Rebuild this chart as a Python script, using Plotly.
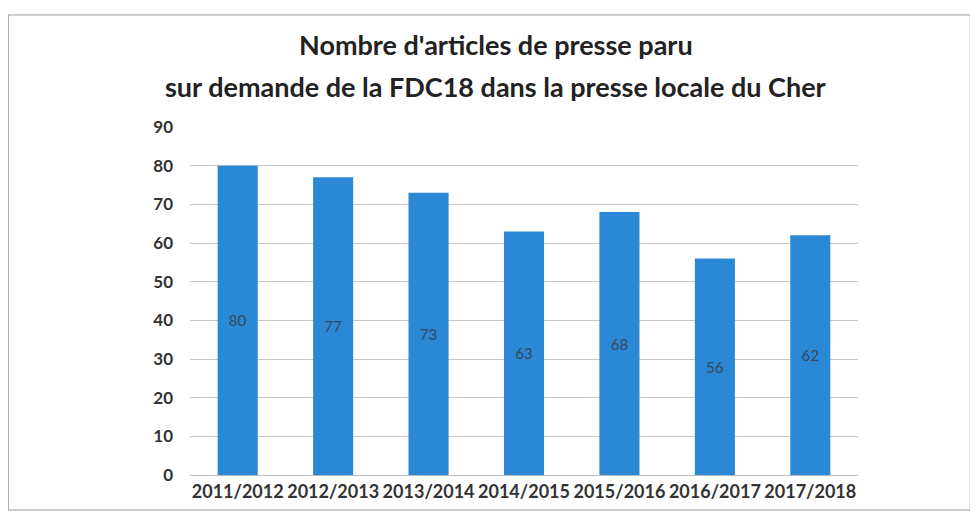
import plotly.graph_objects as go

categories = ["2011/2012", "2012/2013", "2013/2014", "2014/2015", "2015/2016", "2016/2017", "2017/2018"]
values = [80, 77, 73, 63, 68, 56, 62]
y_ticks = [0, 10, 20, 30, 40, 50, 60, 70, 80, 90]

title_line1 = "Nombre d'articles de presse paru"
title_line2 = "sur demande de la FDC18 dans la presse locale du Cher"

fig = go.Figure(go.Bar(
    x=categories, y=values,
    text=[str(v) for v in values],
    textposition="inside", insidetextanchor="middle",
    textfont=dict(family="Lato", size=15, color="#34495e"),
    marker=dict(color="#2B88D4", line=dict(width=0)),
))

title_font = dict(family="Lato", size=27, color="#222222", weight="bold")
fig.update_layout(
    width=970, height=510,
    margin=dict(l=182, r=120, t=119, b=43),
    paper_bgcolor="white", plot_bgcolor="white",
    bargap=0.58,
    showlegend=False,
    xaxis=dict(tickfont=dict(family="Lato", size=18, color="#333333", weight="bold"),
               showline=True, linecolor="#bbbbbb", linewidth=1, ticks=""),
    yaxis=dict(range=[0, 90], tickvals=y_ticks, showgrid=True, gridcolor="#c8c8c8",
               tickfont=dict(family="Lato", size=17, color="#333333", weight="bold"),
               zeroline=False, ticks="", ticklabelstandoff=16, showline=False),
    annotations=[
        dict(text=title_line1, xref="paper", yref="paper", x=0.458, y=1.236, xanchor="center",
             yanchor="middle", showarrow=False, font=title_font),
        dict(text=title_line2, xref="paper", yref="paper", x=0.458, y=1.115, xanchor="center",
             yanchor="middle", showarrow=False, font=title_font),
    ],
    shapes=[dict(type="rect", xref="paper", yref="paper", x0=-0.272, x1=1.168, y0=-0.1006, y1=1.322,
                 line=dict(color="#999999", width=1))],
)
fig.write_html("out.html")
